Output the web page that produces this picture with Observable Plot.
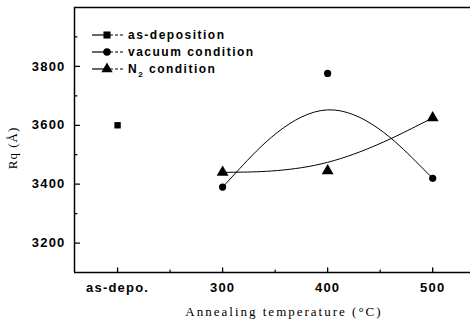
<!DOCTYPE html>
<html><head><meta charset="utf-8">
<script src="https://cdn.jsdelivr.net/npm/d3@7"></script>
<script src="https://cdn.jsdelivr.net/npm/@observablehq/plot@0.6"></script>
<style>
body{margin:0;background:#fff;}
#chart{position:relative;width:470px;height:321px;}
</style></head><body><div id="chart"></div>
<script>
const asDepoX = [200];
const asDepoY = [3600];
const annealX = [300, 400, 500];
const vacuumY = [3390, 3776, 3420];
const n2Y = [3440, 3445, 3625];
const xTicks = [200, 300, 400, 500];
const xTickLabels = ["as-depo.", "300", "400", "500"];
const xMinor = [250, 350, 450];
const yTicks = [3200, 3400, 3600, 3800];
const yMinor = [3300, 3500, 3700, 3900];
const legendLabels = ["as-deposition", "vacuum condition", "N2 condition"];

const asDepo = asDepoX.map((x,i)=>({x, y: asDepoY[i]}));
const vacuum = annealX.map((x,i)=>({x, y: vacuumY[i]}));
const n2 = annealX.map((x,i)=>({x, y: n2Y[i]}));

const tickShape = {draw(ctx, l){ ctx.moveTo(0,0); ctx.lineTo(0,-l); }};

const plot = Plot.plot({
  width: 470, height: 321,
  marginLeft: 74, marginTop: 7, marginBottom: 49, marginRight: 0,
  style: {background: "#fff", color: "#000", fontFamily: "'Liberation Sans', Arial, sans-serif"},
  x: {domain: [159, 536]},
  y: {domain: [3100, 4000]},
  marks: [
    Plot.ruleY([4000], {stroke: "#000", strokeWidth: 1.5}),
    Plot.ruleY([3100], {stroke: "#000", strokeWidth: 1.5}),
    Plot.ruleX([159], {stroke: "#000", strokeWidth: 1.5}),
    Plot.axisX({ticks: xTicks, tickSize: 0, tickPadding: 10, tickFormat: (d)=>xTickLabels[xTicks.indexOf(d)], fontSize: 13, fontWeight: "bold", label: null}),
    Plot.axisY({ticks: yTicks, tickSize: 0, tickPadding: 9, fontSize: 13, fontWeight: "bold", tickFormat: d=>String(d), label: null}),
    Plot.vector(xTicks, {x: d=>d, frameAnchor: "bottom", length: 4.5, rotate: 0, anchor: "start", shape: tickShape, stroke: "#000", strokeWidth: 1.3}),
    Plot.vector(xMinor, {x: d=>d, frameAnchor: "bottom", length: 2.5, rotate: 0, anchor: "start", shape: tickShape, stroke: "#000", strokeWidth: 1.2}),
    Plot.vector(yTicks, {y: d=>d, frameAnchor: "left", length: 5, rotate: 90, anchor: "start", shape: tickShape, stroke: "#000", strokeWidth: 1.3}),
    Plot.vector(yMinor, {y: d=>d, frameAnchor: "left", length: 2.5, rotate: 90, anchor: "start", shape: tickShape, stroke: "#000", strokeWidth: 1.2}),
    Plot.line(vacuum, {x: "x", y: "y", curve: "basis", stroke: "#000", strokeWidth: 1}),
    Plot.line(n2, {x: "x", y: "y", curve: "basis", stroke: "#000", strokeWidth: 1}),
    Plot.dot(asDepo, {x: "x", y: "y", symbol: "square", r: 3.6, fill: "#000"}),
    Plot.dot(vacuum, {x: "x", y: "y", symbol: "circle", r: 3.6, fill: "#000"}),
    Plot.dot(n2, {x: "x", y: "y", symbol: "triangle", r: 4.4, fill: "#000"})
  ]
});
document.getElementById("chart").appendChild(plot);

const svg = d3.select(plot);
svg.selectAll("g[aria-label='x-axis tick label'] text, g[aria-label='y-axis tick label'] text")
  .style("letter-spacing", "1.2px");

// Legend
const syms = [d3.symbolSquare, d3.symbolCircle, d3.symbolTriangle];
const symSize = [50, 45, 55];
const lg = svg.append("g").attr("font-family", "'Liberation Sans', Arial, sans-serif")
  .attr("font-weight", "bold").attr("font-size", 12).attr("text-anchor", "start");
legendLabels.forEach((lab, i) => {
  const y = 35 + i * 17;
  lg.append("line").attr("x1", 92).attr("x2", 104).attr("y1", y).attr("y2", y).attr("stroke", "#000").attr("stroke-width", 1.2);
  lg.append("line").attr("x1", 110).attr("x2", 125).attr("y1", y).attr("y2", y).attr("stroke", "#000").attr("stroke-width", 1.2).attr("stroke-dasharray", "3,2");
  lg.append("path").attr("d", d3.symbol(syms[i], symSize[i])()).attr("transform", `translate(107,${y})`).attr("fill", "#000");
  const t = lg.append("text").attr("x", 128).attr("y", y).attr("dy", "0.35em").attr("text-anchor", "start").style("letter-spacing", "1.5px");
  if (lab === "N2 condition") {
    t.append("tspan").text("N");
    t.append("tspan").attr("font-size", 8).attr("dy", 4).text("2");
    t.append("tspan").attr("dy", -4).text(" condition");
  } else t.text(lab);
});

// Axis titles
svg.append("text").attr("x", 284).attr("y", 316)
  .attr("text-anchor", "middle").attr("font-family", "'Liberation Serif', 'DejaVu Serif', serif")
  .attr("font-size", 13).style("letter-spacing", "2px").text("Annealing temperature (°C)");
svg.append("text").attr("transform", "translate(17,148) rotate(-90)")
  .attr("text-anchor", "middle").attr("font-family", "'Liberation Serif', 'DejaVu Serif', serif")
  .attr("font-size", 13).style("letter-spacing", "1px").text("Rq (Å)");
</script></body></html>
